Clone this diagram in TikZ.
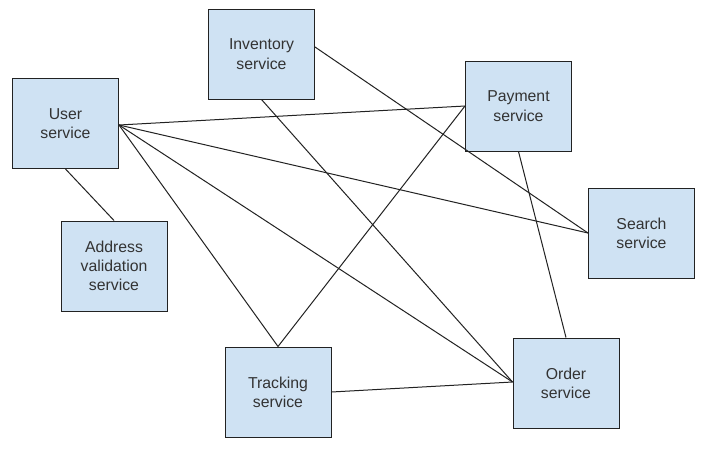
\documentclass[tikz,border=0pt]{standalone}
\usepackage{fontspec}
\setmainfont{Liberation Sans}
\definecolor{boxfill}{HTML}{CFE2F3}
\definecolor{boxline}{HTML}{222222}
\definecolor{txt}{HTML}{333333}
\begin{document}
\begin{tikzpicture}[x=1pt,y=-1pt,
  svc/.style={draw=boxline,fill=boxfill,line width=1pt,minimum width=106pt,minimum height=90pt,
    inner sep=0pt,align=center,text=txt,font=\fontsize{15.8pt}{19.3pt}\selectfont},
  link/.style={draw=boxline,line width=1pt}]
\fill[white] (0,0) rectangle (707,448);
\useasboundingbox (0,0) rectangle (707,448);
\node[svc] (user) at (65.5,123.5) {User\\service};
\node[svc] (inv) at (261.5,54) {Inventory\\service};
\node[svc] (pay) at (518.5,106) {Payment\\service};
\node[svc] (search) at (641.5,233) {Search\\service};
\node[svc] (addr) at (114,266) {Address\\validation\\service};
\node[svc] (track) at (278,392) {Tracking\\service};
\node[svc] (order) at (566,383) {Order\\service};
\coordinate (ue) at ([yshift=-1.5pt]user.east);
\coordinate (ie) at ([yshift=7pt]inv.east);
\coordinate (ow) at ([yshift=1pt]order.west);
\draw[link] (ue) -- (pay.west);
\draw[link] (ue) -- (search.west);
\draw[link] (ue) -- (ow);
\draw[link] (ue) -- (track.north);
\draw[link] (user.south) -- (addr.north);
\draw[link] (ie) -- (search.west);
\draw[link] (inv.south) -- (ow);
\draw[link] (pay.west) -- (track.north);
\draw[link] (pay.south) -- (order.north);
\draw[link] (track.east) -- (ow);
\end{tikzpicture}
\end{document}
